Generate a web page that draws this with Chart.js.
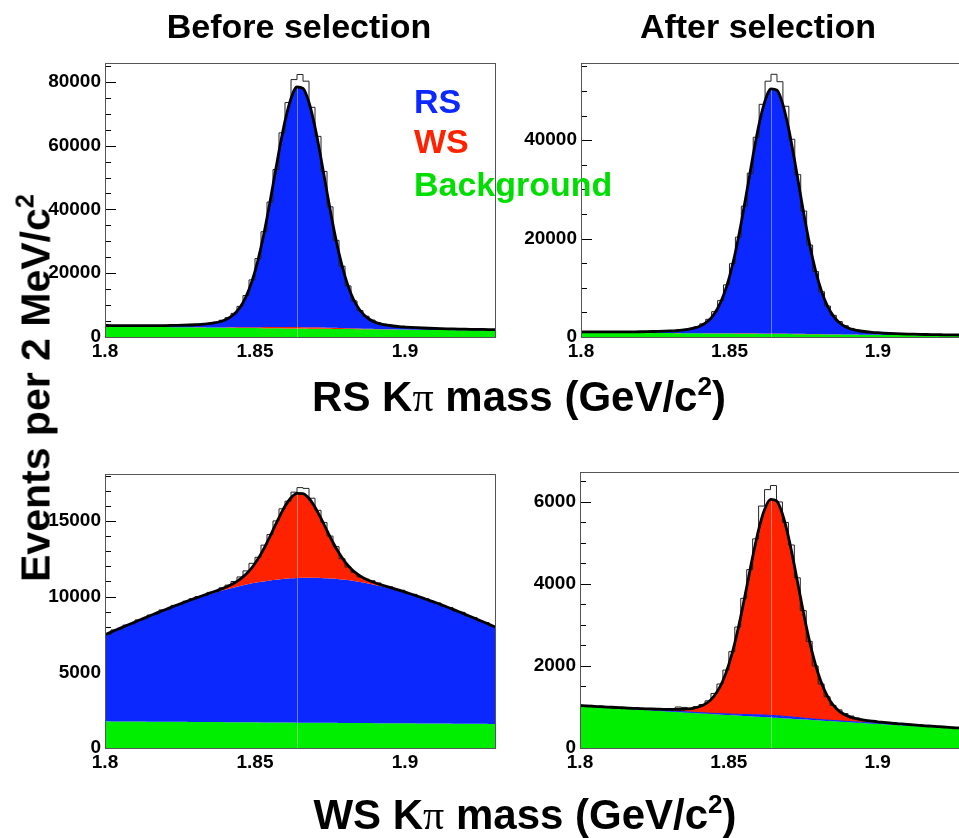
<!DOCTYPE html>
<html><head><meta charset="utf-8">
<script src="https://cdn.jsdelivr.net/npm/chart.js@4.4.1/dist/chart.umd.min.js"></script>
<style>
html,body{margin:0;padding:0;width:959px;height:838px;overflow:hidden;background:#fff;}
body{position:relative;font-family:"Liberation Sans",Arial,sans-serif;font-weight:bold;}
canvas{position:absolute;}
.t{position:absolute;white-space:nowrap;line-height:1;color:#000;z-index:5;}
.c{transform:translateX(-50%);}
.pi{font-family:"Liberation Serif","DejaVu Serif",serif;font-weight:normal;}
sup{font-size:0.62em;vertical-align:0.62em;line-height:0;}
</style></head><body>
<canvas id="c1" width="500" height="340" style="left:0;top:40px"></canvas>
<canvas id="c2" width="500" height="340" style="left:481px;top:40px"></canvas>
<canvas id="c3" width="500" height="340" style="left:0;top:450px"></canvas>
<canvas id="c4" width="500" height="340" style="left:480px;top:450px"></canvas>

<div class="t c" style="left:299px;top:9px;font-size:34px">Before selection</div>
<div class="t c" style="left:758px;top:9px;font-size:34px">After selection</div>
<div class="t c" style="left:519px;top:376px;font-size:42px">RS K<span class="pi">π</span> mass (GeV/c<sup>2</sup>)</div>
<div class="t c" style="left:525px;top:794px;font-size:42px">WS K<span class="pi">π</span> mass (GeV/c<sup>2</sup>)</div>
<div class="t" style="left:36px;top:388px;font-size:41px;transform:translate(-50%,-50%) rotate(-90deg)">Events per 2 MeV/c<sup>2</sup></div>
<div class="t" style="left:414px;top:84px;font-size:34px;color:#0a28ff">RS</div>
<div class="t" style="left:414px;top:124px;font-size:34px;color:#ff2200">WS</div>
<div class="t" style="left:414px;top:167px;font-size:34px;color:#00dd00">Background</div>

<script>
// ---- bin edges (GeV/c^2), 2 MeV bins ----
const massEdges = [1.800,1.802,1.804,1.806,1.808,1.810,1.812,1.814,1.816,1.818,
1.820,1.822,1.824,1.826,1.828,1.830,1.832,1.834,1.836,1.838,
1.840,1.842,1.844,1.846,1.848,1.850,1.852,1.854,1.856,1.858,
1.860,1.862,1.864,1.866,1.868,1.870,1.872,1.874,1.876,1.878,
1.880,1.882,1.884,1.886,1.888,1.890,1.892,1.894,1.896,1.898,
1.900,1.902,1.904,1.906,1.908,1.910,1.912,1.914,1.916,1.918,
1.920,1.922,1.924,1.926,1.928,1.930];
const massTicks = [1.8, 1.85, 1.9];
const massTickLabels = ['1.8', '1.85', '1.9'];
const seamEdgeIndex = 32;   // polygon seam visible at 1.864

// ---- RS K pi mass, before selection ----
const rsBeforeBkg = [3300,3280,3260,3240,3220,3200,3180,3160,3140,3120,3100,3080,3060,3040,3020,3000,2980,2960,2940,2920,2900,2880,2860,2840,2820,2800,2780,2760,2740,2720,2700,2680,2660,2640,2620,2600,2580,2560,2540,2520,2500,2480,2460,2440,2420,2400,2380,2360,2340,2320,2300,2280,2260,2240,2220,2200,2180,2160,2140,2120,2100,2080,2060,2040,2020,2000];
const rsBeforeWS = [0,0,0,0,0,1,1,2,2,3,5,8,11,16,22,31,41,55,71,91,115,142,172,205,240,277,313,347,379,406,428,442,449,449,440,424,401,373,341,305,269,233,198,166,136,110,87,68,52,39,29,21,15,10,7,5,3,2,1,1,0,0,0,0,0,0];
const rsBeforeRS = [312,317,323,331,341,354,371,392,417,449,487,533,587,650,726,816,929,1091,1320,1687,2300,3333,5041,7743,11793,17510,25030,34233,44560,55075,64535,71628,75270,74851,70461,62792,53016,42439,32276,23386,16222,10861,7109,4633,3087,2150,1599,1267,1054,905,797,708,637,576,523,479,442,412,387,367,351,339,329,321,316,312];
const rsBeforeHist = [3640,3560,3600,3540,3590,3520,3580,3570,3530,3610,3580,3670,3650,3790,3850,3990,4080,4300,4650,5250,6050,7400,9600,13000,17900,24600,33000,42300,52500,64000,73500,80700,82300,80200,72000,62900,51900,40800,30300,22200,16000,11300,8300,6500,5300,4500,4000,3640,3380,3180,3090,2940,2900,2760,2740,2630,2640,2520,2540,2440,2460,2390,2400,2330,2350];
const rsBeforeYTicks = [0, 20000, 40000, 60000, 80000];

// ---- RS K pi mass, after selection ----
const rsAfterBkg = [950,940,929,919,909,899,888,878,868,857,847,837,826,816,806,796,785,775,765,754,744,734,723,713,703,693,682,672,662,651,641,631,620,610,600,590,579,569,559,548,538,528,517,507,497,487,476,466,456,445,435,425,414,404,394,384,373,363,353,342,332,322,311,301,291,281];
const rsAfterWS = [0,0,0,0,0,0,0,0,0,1,1,2,2,4,5,7,9,12,16,20,25,31,38,46,53,61,69,77,84,90,95,98,100,100,98,94,89,83,76,68,60,52,44,37,30,24,19,15,11,9,6,5,3,2,2,1,0,0,0,0,0,0,0,0,0,0];
const rsAfterRS = [108,111,115,121,127,136,147,161,177,199,224,254,290,332,382,442,516,624,775,1018,1424,2108,3239,5027,7708,11493,16471,22564,29400,36361,42624,47319,49730,49453,46547,41470,34998,27996,21268,15383,10640,7091,4608,2968,1945,1325,960,740,599,501,429,370,323,283,248,218,194,174,158,144,134,126,119,114,111,108];
const rsAfterHist = [1080,1030,1060,1020,1050,1010,1060,1030,1040,1090,1060,1120,1110,1200,1260,1330,1400,1530,1740,2080,2680,3600,5150,7400,10600,14900,20300,26600,33300,40600,47300,52000,53400,51900,46900,40200,33000,25600,18700,13300,9200,6300,4400,3150,2300,1750,1400,1180,1020,900,850,760,730,650,640,570,560,510,510,460,470,430,430,400,410];
const rsAfterYTicks = [0, 20000, 40000];

// ---- WS K pi mass, before selection ----
const wsBeforeBkg = [1760,1757,1755,1752,1750,1747,1744,1742,1739,1736,1734,1731,1729,1726,1723,1721,1718,1716,1713,1710,1708,1705,1702,1700,1697,1695,1692,1689,1687,1684,1682,1679,1676,1674,1671,1668,1666,1663,1661,1658,1655,1653,1650,1648,1645,1642,1640,1637,1634,1632,1629,1627,1624,1621,1619,1616,1614,1611,1608,1606,1603,1600,1598,1595,1593,1590];
const wsBeforeRS = [5725,5897,6067,6237,6406,6575,6742,6907,7071,7231,7389,7544,7696,7844,7988,8127,8262,8391,8516,8634,8748,8854,8953,9047,9133,9213,9285,9350,9406,9455,9497,9529,9554,9570,9579,9579,9570,9554,9529,9497,9455,9406,9350,9285,9213,9133,9047,8953,8854,8748,8634,8516,8391,8262,8127,7988,7844,7696,7544,7389,7231,7071,6907,6742,6575,6406];
const wsBeforeWS = [1,1,2,2,3,4,5,7,9,11,14,17,21,26,32,38,47,59,76,103,149,226,354,555,857,1284,1845,2531,3302,4086,4792,5321,5593,5561,5234,4662,3933,3144,2385,1722,1188,788,508,323,208,138,97,72,56,45,37,30,25,21,17,13,11,8,6,5,4,3,2,2,1,1];
const wsBeforeHist = [7500,7800,7860,8120,8200,8460,8540,8780,8850,9120,9180,9420,9470,9700,9860,10000,10060,10280,10330,10580,10760,11000,11300,11700,12200,12600,13400,14100,15000,15800,16300,16900,17200,17150,16500,15700,14900,14000,13300,12500,11950,11600,11300,11150,11050,10900,10700,10640,10460,10420,10200,10150,9940,9860,9650,9580,9350,9280,9040,8960,8720,8620,8380,8290,8050];
const wsBeforeYTicks = [0, 5000, 10000, 15000];

// ---- WS K pi mass, after selection ----
const wsAfterBkg = [1020,1011,1003,994,986,977,968,960,951,942,934,925,917,908,899,891,882,874,865,856,848,839,830,822,813,805,796,787,779,770,762,753,744,736,727,718,710,701,693,684,675,667,658,650,641,632,624,615,606,598,589,581,572,563,555,546,538,529,520,512,503,494,486,477,469,460];
const wsAfterRS = [15,15,15,15,15,15,15,15,15,15,15,15,15,15,15,15,15,15,16,16,16,17,17,19,21,24,27,32,37,42,47,51,52,52,50,46,41,36,31,27,23,20,18,17,16,15,15,15,15,15,15,15,15,15,15,15,15,15,15,15,15,15,15,15,15,15];
const wsAfterWS = [1,1,2,2,3,4,5,6,8,10,13,16,20,25,30,36,44,56,72,97,141,213,333,523,807,1209,1737,2384,3109,3848,4513,5011,5267,5237,4929,4390,3703,2960,2246,1622,1119,742,478,304,196,130,91,68,53,43,35,29,24,19,16,13,10,8,6,5,4,3,2,1,1,1];
const wsAfterHist = [1010,1040,1000,1020,985,1005,970,990,955,980,945,965,935,960,930,950,1000,990,950,1010,1060,1150,1330,1560,1900,2350,2950,3650,4350,5100,5900,6300,6400,6000,5500,4950,4150,3350,2600,2000,1560,1250,1040,930,840,780,730,690,660,640,640,610,610,585,590,560,565,540,545,520,525,500,505,480,490];
const wsAfterYTicks = [0, 2000, 4000, 6000];

const BLUE = '#0a28ff', RED = '#ff2200', GREEN = '#00ee00';

const framePlugin = {
  id: 'frame',
  beforeDraw(chart) {
    // inward y tick marks, drawn first so that the fills cover them
    const o = chart.options.plugins.frame; if (!o) return;
    const { ctx, chartArea: a } = chart; const y = chart.scales.y;
    ctx.save(); ctx.strokeStyle = '#000'; ctx.lineWidth = 1;
    for (let v = 0; v <= y.max; v += o.minor) {
      const py = Math.round(y.getPixelForValue(v)) + 0.5;
      const major = (v % o.major) === 0;
      ctx.beginPath(); ctx.moveTo(a.left, py); ctx.lineTo(a.left + (major ? 11 : 6), py); ctx.stroke();
    }
    ctx.restore();
  },
  beforeDatasetsDraw(chart) {
    // faint seam through the filled areas
    const { ctx, chartArea: a } = chart;
    const topIdx = chart.options.plugins.frame.topIndex;
    const pt = chart.getDatasetMeta(topIdx).data[seamEdgeIndex];
    if (!pt) return;
    ctx.save(); ctx.strokeStyle = 'rgba(255,255,255,0.4)'; ctx.lineWidth = 1;
    const px = Math.round(pt.x) + 0.5;
    ctx.beginPath(); ctx.moveTo(px, a.bottom); ctx.lineTo(px, pt.y + 1); ctx.stroke();
    ctx.restore();
  },
  afterDatasetsDraw(chart) {
    const { ctx, chartArea: a } = chart;
    ctx.save(); ctx.strokeStyle = '#555'; ctx.lineWidth = 1;
    ctx.strokeRect(Math.round(a.left) + 0.5, Math.round(a.top) + 0.5, Math.round(a.right - a.left), Math.round(a.bottom - a.top));
    ctx.restore();
  }
};

function makePanel(id, p) {
  const datasets = [];
  const n = p.layers.length;
  let running = massEdges.map(() => 0);
  p.layers.forEach((L, i) => {
    running = running.map((r, k) => r + L.values[k]);   // cumulative stack top
    const top = running.slice();
    datasets.push({
      label: L.name,
      data: massEdges.map((x, k) => ({ x: x, y: top[k] })),
      fill: i === 0 ? 'origin' : i - 1,
      backgroundColor: L.color,
      borderColor: i === n - 1 ? '#000' : (L.line || 'rgba(0,0,0,0)'),
      borderWidth: i === n - 1 ? 2.8 : (L.lw || 0),
      pointRadius: 0,
      cubicInterpolationMode: 'monotone',
      order: i === n - 1 ? 0 : 10 - i
    });
  });
  datasets.push({
    label: 'data',
    data: massEdges.map((x, k) => ({ x: x, y: p.hist[Math.min(k, p.hist.length - 1)] })),
    stepped: true,
    fill: false,
    borderColor: '#222',
    borderWidth: 1,
    pointRadius: 0,
    order: 1
  });
  const tickFont = { family: 'Liberation Sans', weight: 'bold', size: 19 };
  return new Chart(document.getElementById(id), {
    type: 'line',
    data: { datasets },
    options: {
      responsive: false, animation: false, devicePixelRatio: 1,
      layout: { padding: p.pad },
      plugins: { legend: { display: false }, tooltip: { enabled: false },
        filler: { drawTime: 'beforeDatasetsDraw' },
        frame: { major: p.major, minor: p.minor, topIndex: n - 1 } },
      scales: {
        x: {
          type: 'linear', min: 1.8, max: 1.93,
          grid: { display: false, drawTicks: false }, border: { display: false },
          afterBuildTicks: s => { s.ticks = massTicks.map(v => ({ value: v })); },
          afterFit: s => { s.height = p.xh; },
          ticks: { font: tickFont, color: '#000', padding: 3, maxRotation: 0, autoSkip: false,
            callback: v => massTickLabels[massTicks.indexOf(v)] }
        },
        y: {
          min: 0, max: p.ymax,
          grid: { display: false, drawTicks: false }, border: { display: false },
          afterBuildTicks: s => { s.ticks = p.yticks.map(v => ({ value: v })); },
          afterFit: s => { s.width = 100; },
          ticks: { font: tickFont, color: '#000', padding: 4, callback: v => String(v) }
        }
      }
    },
    plugins: [framePlugin]
  });
}

makePanel('c1', { layers: [
    { name: 'Background', values: rsBeforeBkg, color: GREEN },
    { name: 'WS', values: rsBeforeWS, color: RED },
    { name: 'RS', values: rsBeforeRS, color: BLUE }],
  hist: rsBeforeHist, yticks: rsBeforeYTicks, ymax: 85900, major: 20000, minor: 5000,
  pad: { left: 5, right: 5, top: 23, bottom: 0 }, xh: 43 });

makePanel('c2', { layers: [
    { name: 'Background', values: rsAfterBkg, color: GREEN },
    { name: 'WS', values: rsAfterWS, color: RED },
    { name: 'RS', values: rsAfterRS, color: BLUE }],
  hist: rsAfterHist, yticks: rsAfterYTicks, ymax: 55700, major: 20000, minor: 5000,
  pad: { left: 0, right: 14, top: 23, bottom: 0 }, xh: 43 });

makePanel('c3', { layers: [
    { name: 'Background', values: wsBeforeBkg, color: GREEN },
    { name: 'RS', values: wsBeforeRS, color: BLUE },
    { name: 'WS', values: wsBeforeWS, color: RED }],
  hist: wsBeforeHist, yticks: wsBeforeYTicks, ymax: 18100, major: 5000, minor: 1000,
  pad: { left: 5, right: 5, top: 24, bottom: 0 }, xh: 42 });

makePanel('c4', { layers: [
    { name: 'Background', values: wsAfterBkg, color: GREEN },
    { name: 'RS', values: wsAfterRS, color: BLUE, line: BLUE, lw: 1 },
    { name: 'WS', values: wsAfterWS, color: RED }],
  hist: wsAfterHist, yticks: wsAfterYTicks, ymax: 6730, major: 2000, minor: 500,
  pad: { left: 0, right: 13, top: 22, bottom: 0 }, xh: 42 });
</script>
</body></html>
